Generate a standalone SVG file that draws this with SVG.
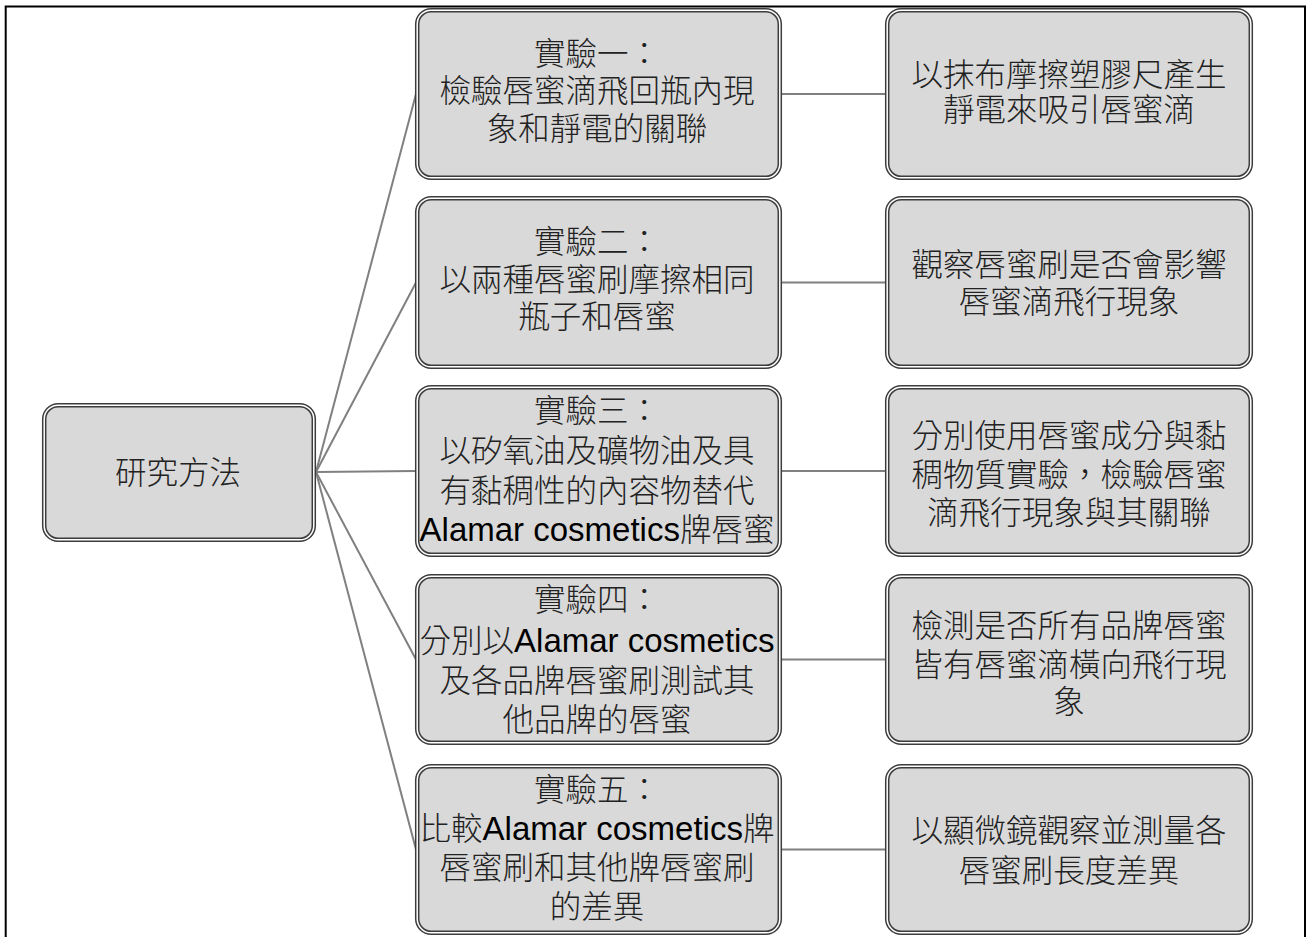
<svg xmlns="http://www.w3.org/2000/svg" width="1308" height="937" viewBox="0 0 1308 937">
<style>
.frame{fill:none;stroke:#000;stroke-width:2}
.conn{fill:none;stroke:#808080;stroke-width:2}
.box{fill:#d9d9d9;stroke:#3c3c3c;stroke-width:4.5}
.gap{fill:none;stroke:#fff;stroke-width:1.5}
.t{font-family:'Liberation Sans','Noto Sans CJK TC',sans-serif;font-size:31.5px;fill:#222;text-anchor:middle;font-weight:300}
.lat{font-size:33px;fill:#000;font-weight:400}
</style>
<rect width="1308" height="937" fill="#fff"/>
<path class="frame" d="M5.7,937 V6.5 H1305 V937"/>
<g id="connectors">
<line class="conn" x1="316" y1="472" x2="416" y2="94"/>
<line class="conn" x1="316" y1="472" x2="416" y2="282.5"/>
<line class="conn" x1="316" y1="472" x2="416" y2="471"/>
<line class="conn" x1="316" y1="472" x2="416" y2="659.5"/>
<line class="conn" x1="316" y1="472" x2="416" y2="849.5"/>
<line class="conn" x1="781" y1="94" x2="886" y2="94"/>
<line class="conn" x1="781" y1="282.5" x2="886" y2="282.5"/>
<line class="conn" x1="781" y1="471" x2="886" y2="471"/>
<line class="conn" x1="781" y1="659.5" x2="886" y2="659.5"/>
<line class="conn" x1="781" y1="849.5" x2="886" y2="849.5"/>
</g>
<g id="root">
<rect class="box" x="44.2" y="405.2" width="269.6" height="134.6" rx="14"/>
<rect class="gap" x="44.2" y="405.2" width="269.6" height="134.6" rx="14"/>
<text class="t" x="178" y="484">研究方法</text>
</g>
<g id="exp1">
<rect class="box" x="417.2" y="10.2" width="362.6" height="167.6" rx="14"/>
<rect class="gap" x="417.2" y="10.2" width="362.6" height="167.6" rx="14"/>
<text class="t" x="597" y="64.5">實驗一：</text>
<text class="t" x="597" y="102">檢驗唇蜜滴飛回瓶內現</text>
<text class="t" x="597" y="139.5">象和靜電的關聯</text>
</g>
<g id="exp2">
<rect class="box" x="417.2" y="198.2" width="362.6" height="168.6" rx="14"/>
<rect class="gap" x="417.2" y="198.2" width="362.6" height="168.6" rx="14"/>
<text class="t" x="597" y="253">實驗二：</text>
<text class="t" x="597" y="290.5">以兩種唇蜜刷摩擦相同</text>
<text class="t" x="597" y="328">瓶子和唇蜜</text>
</g>
<g id="exp3">
<rect class="box" x="417.2" y="387.2" width="362.6" height="167.6" rx="14"/>
<rect class="gap" x="417.2" y="387.2" width="362.6" height="167.6" rx="14"/>
<text class="t" x="597" y="422">實驗三：</text>
<text class="t" x="597" y="462">以矽氧油及礦物油及具</text>
<text class="t" x="597" y="502">有黏稠性的內容物替代</text>
<text class="t" x="597" y="541"><tspan class="lat">Alamar cosmetics</tspan>牌唇蜜</text>
</g>
<g id="exp4">
<rect class="box" x="417.2" y="576.2" width="362.6" height="166.6" rx="14"/>
<rect class="gap" x="417.2" y="576.2" width="362.6" height="166.6" rx="14"/>
<text class="t" x="597" y="611">實驗四：</text>
<text class="t" x="597" y="652">分別以<tspan class="lat">Alamar cosmetics</tspan></text>
<text class="t" x="597" y="692">及各品牌唇蜜刷測試其</text>
<text class="t" x="597" y="731">他品牌的唇蜜</text>
</g>
<g id="exp5">
<rect class="box" x="417.2" y="766.2" width="362.6" height="166.6" rx="14"/>
<rect class="gap" x="417.2" y="766.2" width="362.6" height="166.6" rx="14"/>
<text class="t" x="597" y="801">實驗五：</text>
<text class="t" x="597" y="840">比較<tspan class="lat">Alamar cosmetics</tspan>牌</text>
<text class="t" x="597" y="879">唇蜜刷和其他牌唇蜜刷</text>
<text class="t" x="597" y="918">的差異</text>
</g>
<g id="res1">
<rect class="box" x="887.2" y="10.2" width="363.6" height="167.6" rx="14"/>
<rect class="gap" x="887.2" y="10.2" width="363.6" height="167.6" rx="14"/>
<text class="t" x="1069" y="86">以抹布摩擦塑膠尺產生</text>
<text class="t" x="1069" y="121">靜電來吸引唇蜜滴</text>
</g>
<g id="res2">
<rect class="box" x="887.2" y="198.2" width="363.6" height="168.6" rx="14"/>
<rect class="gap" x="887.2" y="198.2" width="363.6" height="168.6" rx="14"/>
<text class="t" x="1069" y="276">觀察唇蜜刷是否會影響</text>
<text class="t" x="1069" y="313">唇蜜滴飛行現象</text>
</g>
<g id="res3">
<rect class="box" x="887.2" y="387.2" width="363.6" height="167.6" rx="14"/>
<rect class="gap" x="887.2" y="387.2" width="363.6" height="167.6" rx="14"/>
<text class="t" x="1069" y="447">分別使用唇蜜成分與黏</text>
<text class="t" x="1069" y="486">稠物質實驗，檢驗唇蜜</text>
<text class="t" x="1069" y="524">滴飛行現象與其關聯</text>
</g>
<g id="res4">
<rect class="box" x="887.2" y="576.2" width="363.6" height="166.6" rx="14"/>
<rect class="gap" x="887.2" y="576.2" width="363.6" height="166.6" rx="14"/>
<text class="t" x="1069" y="637">檢測是否所有品牌唇蜜</text>
<text class="t" x="1069" y="676">皆有唇蜜滴橫向飛行現</text>
<text class="t" x="1069" y="713">象</text>
</g>
<g id="res5">
<rect class="box" x="887.2" y="766.2" width="363.6" height="166.6" rx="14"/>
<rect class="gap" x="887.2" y="766.2" width="363.6" height="166.6" rx="14"/>
<text class="t" x="1069" y="842">以顯微鏡觀察並測量各</text>
<text class="t" x="1069" y="882">唇蜜刷長度差異</text>
</g>
</svg>
